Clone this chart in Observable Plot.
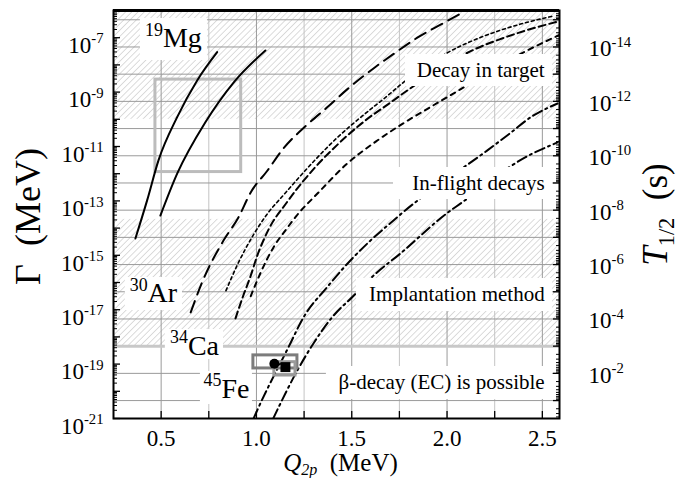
<!DOCTYPE html>
<html><head><meta charset="utf-8">
<script src="https://cdn.jsdelivr.net/npm/d3@7"></script>
<script src="https://cdn.jsdelivr.net/npm/@observablehq/plot@0.6"></script>
<style>
body{margin:0;background:#fff}
svg, svg text, svg tspan{font-family:"Liberation Serif","DejaVu Serif",serif !important}
svg text{white-space:pre}
</style>
</head><body><div id="chart"></div>
<script>
// ---- constants / tick labels ----
const HBAR_LN2 = 4.562e-22;            // MeV*s : T1/2 = hbar*ln2 / Gamma
const xDomain = [0.25, 2.59];
const yDomain = [1e-21, 1e-6];
const gammaLabelExp = [-21, -19, -17, -15, -13, -11, -9, -7];
const tLabelExp = [-14, -12, -10, -8, -6, -4, -2];
const xTickLabels = [0.5, 1.0, 1.5, 2.0, 2.5];
const xTicks = [0.5, 0.75, 1.0, 1.25, 1.5, 1.75, 2.0, 2.25, 2.5];
const gridMajorQ = [0.5, 1.0, 1.5, 2.0, 2.5];
const gridMinorQ = [0.75, 1.25, 1.75, 2.25];
const tGridExp = [-15, -14, -13, -12, -11, -10, -9, -8, -7, -6, -5, -4, -2, -1];
const tThickExp = [-3];

// ---- curves: [Q2p (MeV), log10 Gamma (MeV)] ----
const mg19a = [[0.365,-14.38],[0.426,-12.99],[0.486,-11.51],[0.584,-9.92],[0.689,-8.57],[0.794,-7.53]];
const mg19b = [[0.496,-13.54],[0.584,-12.0],[0.732,-10.11],[0.881,-8.64],[1.047,-7.47]];
const ar30a = [[0.655,-17.1],[0.715,-15.99],[0.827,-14.46],[0.906,-13.6],[0.969,-12.7],[1.056,-11.9],[1.142,-11.07],[1.266,-10.2],[1.371,-9.56],[1.476,-8.9],[1.614,-8.13],[1.719,-7.6],[1.844,-7.0],[1.966,-6.52],[2.075,-6.1]];
const ca34a = [[0.84,-16.3],[0.90,-15.35],[0.984,-14.25],[1.06,-13.45],[1.14,-12.8],[1.3,-11.55],[1.42,-10.7],[1.56,-9.85],[1.685,-9.15],[1.77,-8.65],[1.99,-7.6],[2.19,-6.95],[2.386,-6.5],[2.56,-6.2]];
const ca34b = [[0.89,-17.32],[0.93,-16.5],[0.97,-15.75],[1.0,-15.1],[1.06,-14.1],[1.16,-13.05],[1.31,-11.75],[1.43,-10.9],[1.57,-10.05],[1.69,-9.45],[1.8,-8.9],[2.15,-7.41],[2.3,-7.0],[2.42,-6.72],[2.575,-6.42]];
const ca34c = [[0.97,-16.5],[1.02,-15.67],[1.09,-14.7],[1.16,-14.01],[1.21,-13.55],[1.32,-12.73],[1.476,-11.63],[1.634,-10.78],[1.77,-10.15],[1.913,-9.55],[2.07,-8.9],[2.42,-7.47],[2.59,-6.9]];
const fe45a = [[0.985,-21.0],[1.004,-20.7],[1.168,-18.38],[1.247,-17.28],[1.371,-16.17],[1.493,-15.19],[1.598,-14.46],[1.719,-13.72],[1.772,-13.4],[2.071,-11.85],[2.21,-11.15],[2.333,-10.5],[2.44,-9.92],[2.58,-9.42]];
const fe45b = [[1.088,-21.0],[1.214,-19.24],[1.299,-18.24],[1.397,-17.28],[1.502,-16.54],[1.634,-15.62],[1.756,-14.93],[2.0,-13.45],[2.07,-13.1],[2.41,-11.4],[2.58,-10.85]];

// ---- experimental data (45Fe) ----
const fePoints = [{q: 1.094, e: -18.99, sym: "circle"}, {q: 1.152, e: -19.11, sym: "square"}];
const feBoxes = [{q1: 0.984, q2: 1.215, e1: -18.68, e2: -19.16}, {q1: 1.094, q2: 1.205, e1: -18.93, e2: -19.42}];
const mgBox = [{q1: 0.47, q2: 0.92, e1: -8.54, e2: -11.94}];

// ---- method bands (log10 Gamma) ----
const hatchBands = [{e1: -10.0, e2: -6.0}, {e1: Math.log10(HBAR_LN2 / 1e-3), e2: -13.68}];

// ---- annotations ----
const labelBoxes = [
  {q1: 1.782, q2: 2.553, e1: -7.618, e2: -8.794},
  {q1: 1.719, q2: 2.553, e1: -11.772, e2: -12.949},
  {q1: 1.525, q2: 2.553, e1: -15.853, e2: -17.066},
  {q1: 1.367, q2: 2.553, e1: -19.088, e2: -20.301},
  {q1: 0.391, q2: 0.743, e1: -6.294, e2: -7.838},
  {q1: 0.312, q2: 0.612, e1: -15.816, e2: -17.029},
  {q1: 0.522, q2: 0.827, e1: -17.728, e2: -18.831},
  {q1: 0.706, q2: 0.979, e1: -19.272, e2: -20.485}
];
const regionLabels = [
  {text: "Decay in target", q: 2.512, e: -8.21},
  {text: "In-flight decays", q: 2.512, e: -12.36},
  {text: "Implantation method", q: 2.512, e: -16.44},
  {text: "β-decay (EC) is possible", q: 2.512, e: -19.68}
];
const nuclideLabels = [
  {text: "^{19}Mg", q: 0.5645, e: -7.03},
  {text: "^{30}Ar", q: 0.4596, e: -16.40},
  {text: "^{34}Ca", q: 0.675, e: -18.32},
  {text: "^{45}Fe", q: 0.843, e: -19.9}
];

// ---- tick positions ----
const gMajor = d3.range(-21, -5).map(e => 10 ** e);
const gMinor = [];
for (let e = -21; e < -6; e++) for (let m = 2; m <= 9; m++) gMinor.push(m * 10 ** e);
const inDom = g => g >= yDomain[0] && g <= yDomain[1];
const tMajorG = d3.range(-16, 1).map(k => HBAR_LN2 / 10 ** k).filter(inDom);
const tMinorG = [];
for (let k = -16; k <= 0; k++) for (let m = 2; m <= 9; m++) { const g = HBAR_LN2 / (m * 10 ** k); if (inDom(g)) tMinorG.push(g); }

const P = d => 10 ** d[1];
const curve = (data, dash, w = 2) => Plot.line(data, {x: d => d[0], y: P, curve: "monotone-x", stroke: "black", strokeWidth: w, strokeDasharray: dash, clip: true});

const svg = Plot.plot({
  width: 684, height: 478,
  marginLeft: 113, marginRight: 125, marginTop: 10, marginBottom: 60,
  x: {domain: xDomain},
  y: {type: "log", domain: yDomain},
  style: {fontFamily: "Liberation Serif", background: "white", color: "black"},
  marks: [
    Plot.rect(hatchBands, {y1: d => 10 ** d.e1, y2: d => 10 ** d.e2, fill: "url(#hatch)"}),
    Plot.ruleX(gridMinorQ, {stroke: "#c4c4c4", strokeWidth: 1}),
    Plot.ruleX(gridMajorQ, {stroke: "#9a9a9a", strokeWidth: 1}),
    Plot.ruleY(tGridExp, {y: k => HBAR_LN2 / 10 ** k, stroke: "#9a9a9a", strokeWidth: 1}),
    Plot.ruleY(tThickExp, {y: k => HBAR_LN2 / 10 ** k, stroke: "#c8c8c8", strokeWidth: 3}),
    Plot.rect(mgBox, {x1: "q1", x2: "q2", y1: d => 10 ** d.e1, y2: d => 10 ** d.e2, fill: "none", stroke: "#bcbcbc", strokeWidth: 3}),
    curve(mg19a, null),
    curve(mg19b, null),
    curve(ar30a, "12,7"),
    curve(ca34a, "3,3", 1.6),
    curve(ca34b, "7,4"),
    curve(ca34c, "5,5"),
    curve(fe45a, "10,4,2,4"),
    curve(fe45b, "10,4,2,4"),
    Plot.rect(feBoxes, {x1: "q1", x2: "q2", y1: d => 10 ** d.e1, y2: d => 10 ** d.e2, fill: "none", stroke: (d, i) => i ? "#9a9a9a" : "#7c7c7c", strokeWidth: 3}),
    Plot.dot(fePoints.filter(d => d.sym === "square"), {x: "q", y: d => 10 ** d.e, symbol: "square", r: 5.6, fill: "black"}),
    Plot.dot(fePoints.filter(d => d.sym === "circle"), {x: "q", y: d => 10 ** d.e, r: 5, fill: "black"}),
    Plot.rect(labelBoxes, {x1: "q1", x2: "q2", y1: d => 10 ** d.e1, y2: d => 10 ** d.e2, fill: "white"}),
    Plot.text(regionLabels, {x: "q", y: d => 10 ** d.e, text: "text", textAnchor: "end", fontSize: 21}),
    Plot.text(nuclideLabels, {x: "q", y: d => 10 ** d.e, text: "text", textAnchor: "middle", fontSize: 28}),
    // axes ticks
    Plot.axisY({ticks: gMajor, anchor: "left", tickSize: -7, tickFormat: () => "", label: null, strokeWidth: 1.3}),
    Plot.axisY({ticks: gMinor, anchor: "left", tickSize: -4, tickFormat: () => "", label: null}),
    Plot.axisY({ticks: tMajorG, anchor: "right", tickSize: -7, tickFormat: () => "", label: null, strokeWidth: 1.3}),
    Plot.axisY({ticks: tMinorG, anchor: "right", tickSize: -4, tickFormat: () => "", label: null}),
    Plot.axisX({ticks: xTicks, anchor: "bottom", tickSize: -7, tickFormat: () => "", label: null, strokeWidth: 1.3}),
    Plot.axisX({ticks: xTickLabels, anchor: "bottom", tickSize: 0, tickPadding: 11, tickFormat: d3.format(".1f"), fontSize: 23, label: null}),
    // tick labels with powers of ten
    Plot.text(gammaLabelExp, {frameAnchor: "left", y: e => 10 ** e, text: e => `10^{${e}}`, textAnchor: "end", dx: -10, dy: 8, fontSize: 23}),
    Plot.text(tLabelExp, {frameAnchor: "right", y: e => HBAR_LN2 / 10 ** e, text: e => `10^{${e}}`, textAnchor: "start", dx: 29, dy: 2, fontSize: 23}),
    // axis titles
    Plot.text(["Γ  (MeV)"], {frameAnchor: "left", textAnchor: "middle", lineAnchor: "middle", dx: -85, dy: 2, rotate: -90, fontSize: 36}),
    Plot.text(["*{T}_{1/2}  (s)"], {frameAnchor: "right", textAnchor: "middle", lineAnchor: "middle", dx: 96, dy: 0, rotate: -90, fontSize: 35}),
    Plot.text(["*{Q}_*{2p}  (MeV)"], {frameAnchor: "bottom", textAnchor: "middle", lineAnchor: "middle", dx: 4, dy: 44, fontSize: 25}),
    Plot.ruleY([yDomain[1]], {stroke: "black", strokeWidth: 3}),
    Plot.frame({stroke: "black", strokeWidth: 2})
  ]
});
document.getElementById("chart").appendChild(svg);

// hatch pattern
const NS = "http://www.w3.org/2000/svg";
const defs = document.createElementNS(NS, "defs");
const pat = document.createElementNS(NS, "pattern");
pat.setAttribute("id", "hatch");
pat.setAttribute("patternUnits", "userSpaceOnUse");
pat.setAttribute("width", "4.4"); pat.setAttribute("height", "4.4");
pat.setAttribute("patternTransform", "rotate(45)");
const pl = document.createElementNS(NS, "line");
pl.setAttribute("x1", 0); pl.setAttribute("y1", 0); pl.setAttribute("x2", 0); pl.setAttribute("y2", 4.4);
pl.setAttribute("stroke", "#a8a8a8"); pl.setAttribute("stroke-width", "0.8");
pat.appendChild(pl); defs.appendChild(pat);
svg.insertBefore(defs, svg.firstChild);

// rich text: ^{sup}, _{sub}, _*{italic sub}, *{italic}
function richText(root) {
  const re = /(\^\{[^}]*\}|_\*\{[^}]*\}|_\{[^}]*\}|\*\{[^}]*\})/g;
  root.querySelectorAll("text").forEach(el => {
    const s = el.textContent;
    re.lastIndex = 0;
    if (!re.test(s)) return;
    re.lastIndex = 0;
    const fs = parseFloat(getComputedStyle(el).fontSize);
    const parts = s.split(re).filter(p => p !== "");
    el.textContent = "";
    let shift = 0;
    for (const p of parts) {
      let txt = p, size = 0, target = 0, italic = false;
      if (p.startsWith("^{")) { txt = p.slice(2, -1); size = 0.64; target = -0.42 * fs; }
      else if (p.startsWith("_*{")) { txt = p.slice(3, -1); size = 0.64; target = 0.18 * fs; italic = true; }
      else if (p.startsWith("_{")) { txt = p.slice(2, -1); size = 0.64; target = 0.2 * fs; }
      else if (p.startsWith("*{")) { txt = p.slice(2, -1); italic = true; }
      const t = document.createElementNS(NS, "tspan");
      t.textContent = txt;
      if (size) t.setAttribute("font-size", (size * fs).toFixed(1));
      if (italic) t.setAttribute("font-style", "italic");
      const dy = target - shift;
      if (dy) t.setAttribute("dy", dy.toFixed(2));
      shift = target;
      el.appendChild(t);
    }
  });
}
richText(svg);
</script></body></html>
